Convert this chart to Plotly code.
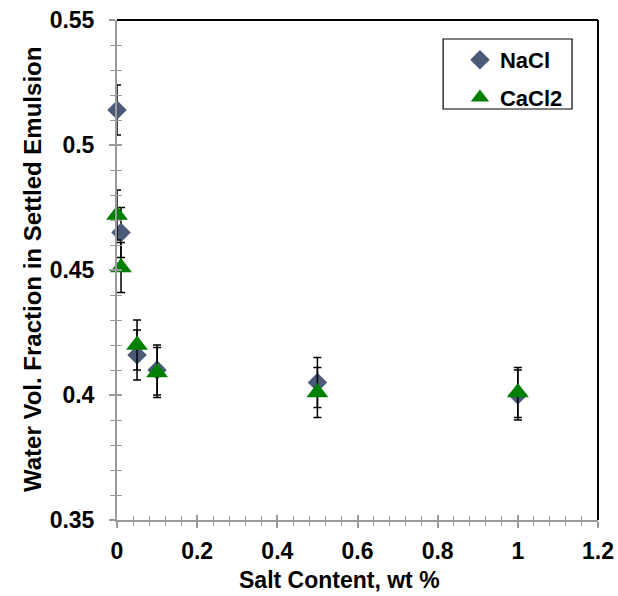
import plotly.graph_objects as go

# Salt concentration (wt %) and measured water volume fraction in the settled emulsion
nacl_x = [0.0, 0.01, 0.05, 0.1, 0.5, 1.0]
nacl_y = [0.514, 0.465, 0.416, 0.410, 0.405, 0.400]
nacl_err = [0.01, 0.01, 0.01, 0.01, 0.01, 0.01]

cacl2_x = [0.0, 0.01, 0.05, 0.1, 0.5, 1.0]
cacl2_y = [0.472, 0.451, 0.420, 0.409, 0.401, 0.401]
cacl2_err = [0.01, 0.01, 0.01, 0.01, 0.01, 0.01]

x_title = "Salt Content, wt %"
y_title = "Water Vol. Fraction in Settled Emulsion"

FONT = "Liberation Sans, Arial, sans-serif"
AXIS_GRAY = "#9a9a9a"

fig = go.Figure()

fig.add_trace(go.Scatter(
    x=nacl_x, y=nacl_y, mode="markers", name="NaCl",
    legendgroup="a",
    marker=dict(symbol="diamond", size=15, color="#4a5a78"),
    error_y=dict(type="data", array=nacl_err, visible=True,
                 color="black", thickness=1.5, width=4),
    cliponaxis=False,
))
fig.add_trace(go.Scatter(
    x=cacl2_x, y=cacl2_y, mode="markers", name="CaCl2",
    legendgroup="b",
    marker=dict(symbol="triangle-up", size=19, color="#008000"),
    error_y=dict(type="data", array=cacl2_err, visible=True,
                 color="black", thickness=1.5, width=4),
    cliponaxis=False,
))

tickfont = dict(family=FONT, size=23, color="black", weight="bold")
xtitlefont = dict(family=FONT, size=23, color="black", weight="bold")
ytitlefont = dict(family=FONT, size=24, color="black", weight="bold")

fig.update_layout(
    width=618, height=596,
    margin=dict(l=117, r=20, t=20, b=76, autoexpand=False),
    paper_bgcolor="white", plot_bgcolor="white",
    showlegend=True,
    legend=dict(
        x=0.713, y=0.962, xanchor="left", yanchor="top",
        bgcolor="rgba(0,0,0,0)", borderwidth=0,
        font=dict(family=FONT, size=22, color="black", weight="bold"),
        tracegroupgap=6, itemwidth=30,
    ),
    xaxis=dict(
        range=[0, 1.2], dtick=0.2, tick0=0, automargin=False,
        showgrid=False, zeroline=False,
        showline=True, linecolor=AXIS_GRAY, linewidth=2,
        ticks="outside", ticklen=6, tickcolor=AXIS_GRAY, tickwidth=1.5,
        minor=dict(dtick=0.04, ticks="outside", ticklen=4,
                   tickcolor=AXIS_GRAY, tickwidth=1),
        tickfont=tickfont, ticklabelstandoff=3,
    ),
    yaxis=dict(
        range=[0.35, 0.55], dtick=0.05, tick0=0.35, automargin=False,
        showgrid=False, zeroline=False,
        showline=True, linecolor=AXIS_GRAY, linewidth=2,
        ticks="outside", ticklen=6, tickcolor=AXIS_GRAY, tickwidth=1.5,
        minor=dict(dtick=0.01, ticks="outside", ticklen=5,
                   tickcolor=AXIS_GRAY, tickwidth=1),
        tickfont=tickfont, ticklabelstandoff=10,
    ),
    # inward tick marks so the ticks cross the axis lines
    xaxis2=dict(
        overlaying="x", matches="x", side="bottom", anchor="y",
        automargin=False,
        showgrid=False, zeroline=False, showline=False,
        showticklabels=False, ticks="inside", ticklen=5,
        tickcolor=AXIS_GRAY, tickwidth=1.5, dtick=0.2, tick0=0,
        minor=dict(dtick=0.04, ticks="inside", ticklen=4,
                   tickcolor=AXIS_GRAY, tickwidth=1),
    ),
    yaxis2=dict(
        overlaying="y", matches="y", side="left", anchor="x",
        automargin=False,
        showgrid=False, zeroline=False, showline=False,
        showticklabels=False, ticks="inside", ticklen=5,
        tickcolor=AXIS_GRAY, tickwidth=1.5, dtick=0.05, tick0=0.35,
        minor=dict(dtick=0.01, ticks="inside", ticklen=5,
                   tickcolor=AXIS_GRAY, tickwidth=1),
    ),
    annotations=[
        dict(text=x_title, xref="paper", yref="paper", x=0.4636, y=-0.12,
             xanchor="center", yanchor="middle", showarrow=False,
             font=xtitlefont),
        dict(text=y_title, xref="paper", yref="paper", x=-0.1767, y=0.5,
             xanchor="center", yanchor="middle", showarrow=False,
             textangle=-90, font=ytitlefont),
    ],
    shapes=[
        # black frame along the top and right of the plotting area
        dict(type="line", xref="paper", yref="paper", x0=0, x1=1, y0=1, y1=1,
             line=dict(color="black", width=2)),
        dict(type="line", xref="paper", yref="paper", x0=1, x1=1, y0=0, y1=1,
             line=dict(color="black", width=2)),
        # legend box
        dict(type="rect", xref="paper", yref="paper",
             x0=0.678, x1=0.946, y0=0.822, y1=0.962,
             line=dict(color="black", width=1.2), fillcolor="white",
             layer="below"),
    ],
)

# empty trace to activate the overlay axes carrying the inward ticks
fig.add_trace(go.Scatter(x=[None], y=[None], xaxis="x2", yaxis="y2",
                         showlegend=False, hoverinfo="skip"))

fig.write_html("out.html")
